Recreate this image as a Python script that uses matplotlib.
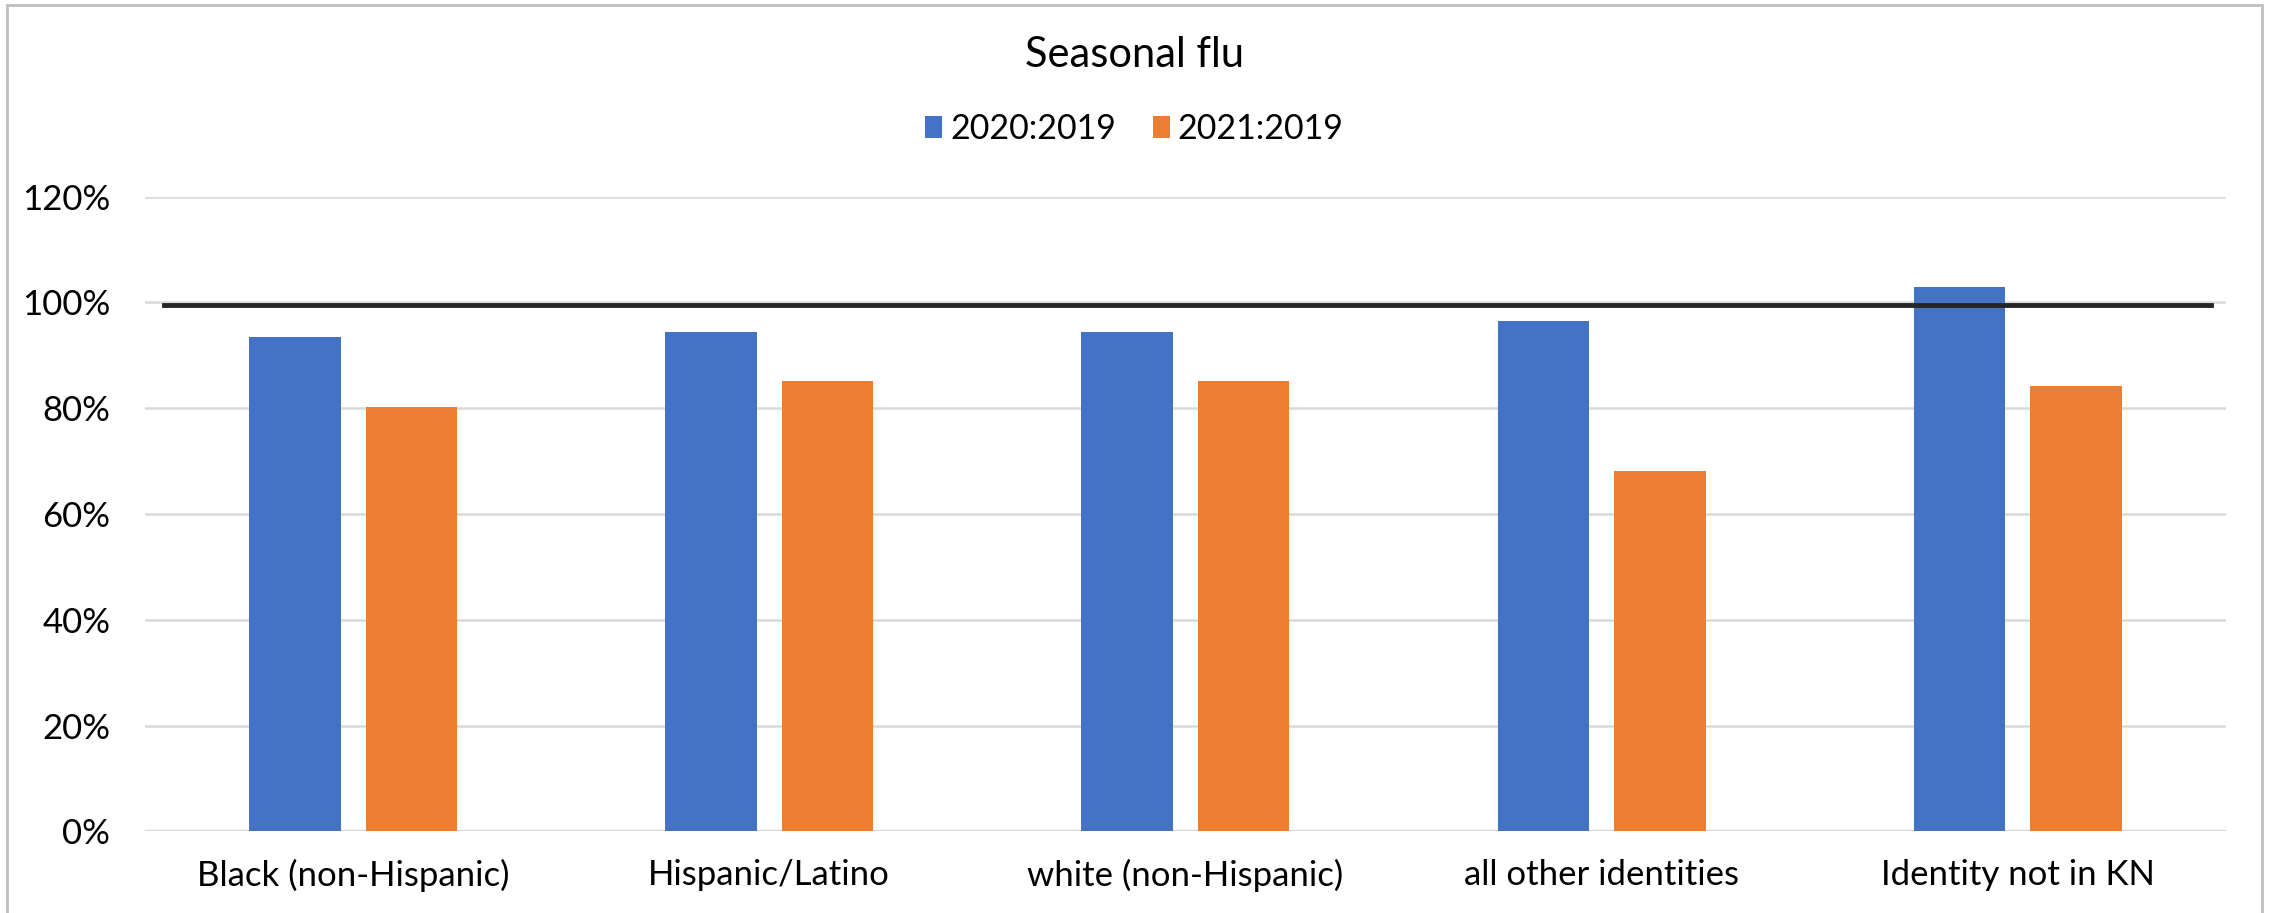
import matplotlib.pyplot as plt
from matplotlib.patches import Rectangle
from matplotlib.ticker import PercentFormatter
import numpy as np

plt.rcParams["font.family"] = ["Lato", "DejaVu Sans"]

categories = ["Black (non-Hispanic)", "Hispanic/Latino", "white (non-Hispanic)",
              "all other identities", "Identity not in KN"]
series_names = ["2020:2019", "2021:2019"]
ratio_2020 = [0.935, 0.944, 0.944, 0.965, 1.029]
ratio_2021 = [0.802, 0.852, 0.852, 0.681, 0.842]
baseline = 0.995
yticks = [0, 0.2, 0.4, 0.6, 0.8, 1.0, 1.2]

blue = "#4472C4"
orange = "#ED7D31"

fig = plt.figure(figsize=(22.69, 9.13), dpi=100)
ax = fig.add_axes([0.0639, 0.0893, 0.9171, 0.6953])

x = np.arange(len(categories))
w = 0.22
ax.bar(x - 0.14, ratio_2020, w, color=blue, label=series_names[0], zorder=2)
ax.bar(x + 0.14, ratio_2021, w, color=orange, label=series_names[1], zorder=2)
ax.axhline(baseline, xmin=0.009, xmax=0.993, color="#262626", lw=3.5, zorder=3)

ax.set_xlim(-0.5, len(categories) - 0.5)
ax.set_ylim(0, 1.2)
ax.set_yticks(yticks)
ax.yaxis.set_major_formatter(PercentFormatter(1.0, decimals=0))
ax.set_xticks(x)
ax.set_xticklabels(categories)
ax.tick_params(length=0, labelsize=25, colors="#000000")
ax.tick_params(axis="x", pad=20)
ax.tick_params(axis="y", pad=25)
ax.grid(axis="y", color="#d9d9d9", lw=1.8, zorder=0)
for s in ax.spines.values():
    s.set_visible(False)
ax.axhline(0, color="#d9d9d9", lw=2.5, zorder=1)

fig.text(0.5, 1 - 55 / 913, "Seasonal flu", ha="center", va="center", fontsize=30)
fig.legend(loc="center", bbox_to_anchor=(0.5, 1 - 129 / 913), ncol=2, frameon=False,
           fontsize=24.5, handlelength=0.5, handleheight=0.62, handletextpad=0.22,
           columnspacing=1.1)

fig.patches.append(Rectangle((7 / 2269, -0.01), 2255 / 2269, 1.01 - 5 / 913,
                             transform=fig.transFigure, fill=False,
                             edgecolor="#bfbfbf", lw=2))

fig.savefig("out.png", dpi=100)
